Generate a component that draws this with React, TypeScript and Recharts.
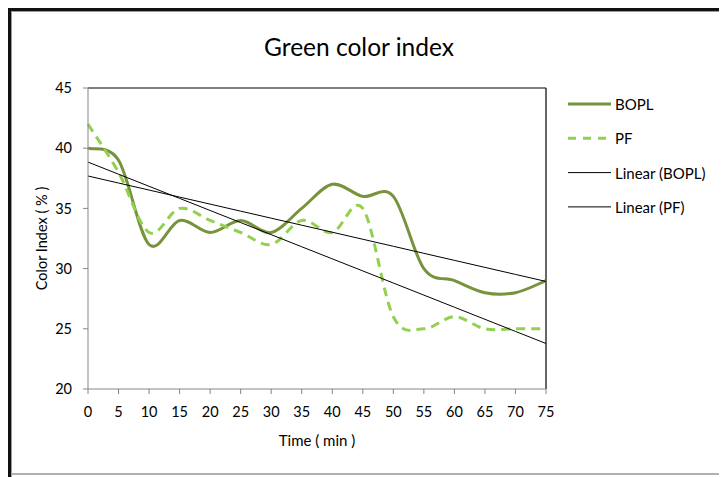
import React from 'react';
import { LineChart, Line, XAxis, YAxis, ReferenceLine } from 'recharts';

const times = [0, 5, 10, 15, 20, 25, 30, 35, 40, 45, 50, 55, 60, 65, 70, 75];
const boplValues = [40, 39, 32, 34, 33, 34, 33, 35, 37, 36, 36, 30, 29, 28, 28, 29];
const pfValues = [42, 38, 33, 35, 34, 33, 32, 34, 33, 35, 26, 25, 26, 25, 25, 25];
const xTicks = [0, 5, 10, 15, 20, 25, 30, 35, 40, 45, 50, 55, 60, 65, 70, 75];
const yTicks = [20, 25, 30, 35, 40, 45];

const BOPL_COLOR = '#77933C';
const PF_COLOR = '#92D050';
const FONT = 'Lato, "Open Sans", sans-serif';

function linearFit(xs: number[], ys: number[]) {
  const n = xs.length;
  const mx = xs.reduce((a, b) => a + b, 0) / n;
  const my = ys.reduce((a, b) => a + b, 0) / n;
  let sxy = 0;
  let sxx = 0;
  for (let i = 0; i < n; i++) {
    sxy += (xs[i] - mx) * (ys[i] - my);
    sxx += (xs[i] - mx) * (xs[i] - mx);
  }
  const slope = sxy / sxx;
  return { slope, intercept: my - slope * mx };
}

const fitB = linearFit(times, boplValues);
const fitP = linearFit(times, pfValues);

const data = times.map((t, i) => ({
  time: t,
  BOPL: boplValues[i],
  PF: pfValues[i],
  linB: fitB.intercept + fitB.slope * t,
  linP: fitP.intercept + fitP.slope * t,
}));

// Excel-like smoothed line (uniform Catmull-Rom through the points)
function excelSmooth(context: any) {
  let pts: number[][] = [];
  return {
    areaStart() {},
    areaEnd() {},
    lineStart() {
      pts = [];
    },
    lineEnd() {
      const n = pts.length;
      if (!n) return;
      context.moveTo(pts[0][0], pts[0][1]);
      for (let i = 0; i < n - 1; i++) {
        const p0 = pts[i - 1] || pts[i];
        const p1 = pts[i];
        const p2 = pts[i + 1];
        const p3 = pts[i + 2] || p2;
        context.bezierCurveTo(
          p1[0] + (p2[0] - p0[0]) / 6,
          p1[1] + (p2[1] - p0[1]) / 6,
          p2[0] - (p3[0] - p1[0]) / 6,
          p2[1] - (p3[1] - p1[1]) / 6,
          p2[0],
          p2[1]
        );
      }
    },
    point(x: number, y: number) {
      pts.push([+x, +y]);
    },
  };
}

const legendItems = [
  { name: 'BOPL', color: BOPL_COLOR, width: 3, dash: undefined as string | undefined },
  { name: 'PF', color: PF_COLOR, width: 3, dash: '8 7' },
  { name: 'Linear (BOPL)', color: '#000', width: 1, dash: undefined },
  { name: 'Linear (PF)', color: '#000', width: 1, dash: undefined },
];

export default function App() {
  const axisGray = '#868686';
  const tickStyle = { fill: '#000', fontSize: 14.5, fontFamily: FONT };
  return (
    <div style={{ position: 'relative', width: 719, height: 469, background: '#fff' }}>
      <LineChart
        width={719}
        height={469}
        data={data}
        margin={{ top: 80, right: 181, bottom: 58, left: 30 }}
        style={{ position: 'absolute', left: 0, top: 0 }}
      >
        <XAxis
          dataKey="time"
          type="number"
          domain={[0, 75]}
          ticks={xTicks}
          interval={0}
          height={30}
          tickSize={5}
          tickMargin={13}
          stroke={axisGray}
          tick={tickStyle}
          axisLine={{ stroke: axisGray }}
          tickLine={{ stroke: axisGray }}
          label={{ value: 'Time ( min )', position: 'bottom', offset: 16, style: { fill: '#000', fontSize: 15, fontFamily: FONT } }}
        />
        <YAxis
          type="number"
          domain={[20, 45]}
          ticks={yTicks}
          interval={0}
          width={50}
          tickSize={5}
          tickMargin={11}
          stroke={axisGray}
          tick={tickStyle}
          axisLine={{ stroke: axisGray }}
          tickLine={{ stroke: axisGray }}
          label={{ value: 'Color Index ( % )', angle: -90, position: 'insideLeft', offset: 4, style: { textAnchor: 'middle', fill: '#000', fontSize: 14.5, fontFamily: FONT } }}
        />
        <ReferenceLine y={45} stroke="#000" strokeWidth={1.2} />
        <ReferenceLine x={75} stroke="#000" strokeWidth={1.2} />
        <Line dataKey="BOPL" name="BOPL" type={excelSmooth as any} stroke={BOPL_COLOR} strokeWidth={3} dot={false} isAnimationActive={false} />
        <Line dataKey="PF" name="PF" type={excelSmooth as any} stroke={PF_COLOR} strokeWidth={3} strokeDasharray="9 6" dot={false} isAnimationActive={false} />
        <Line dataKey="linB" name="Linear (BOPL)" type="linear" stroke="#000" strokeWidth={1} dot={false} isAnimationActive={false} />
        <Line dataKey="linP" name="Linear (PF)" type="linear" stroke="#000" strokeWidth={1} dot={false} isAnimationActive={false} />
      </LineChart>

      {/* title */}
      <div
        style={{
          position: 'absolute',
          left: 151,
          width: 400,
          top: 24,
          textAlign: 'center',
          fontFamily: FONT,
          fontSize: 24.5,
          color: '#000',
          lineHeight: '30px',
        }}
      >
        Green color index
      </div>

      {/* legend */}
      <svg width={170} height={130} style={{ position: 'absolute', left: 555, top: 80 }}>
        {legendItems.map((it, i) => {
          const y = 16 + i * 34.3;
          return (
            <g key={it.name}>
              <line x1={5} x2={48} y1={y} y2={y} stroke={it.color} strokeWidth={it.width} strokeDasharray={it.dash} />
              <text x={52} y={y} dominantBaseline="central" fontFamily={FONT} fontSize={15} fill="#000">
                {it.name}
              </text>
            </g>
          );
        })}
      </svg>

      {/* frame */}
      <div style={{ position: 'absolute', left: 0, top: 0, width: 719, height: 3, background: '#111' }} />
      <div style={{ position: 'absolute', left: 0, top: 0, width: 3, height: 469, background: '#111' }} />
      <div style={{ position: 'absolute', left: 3, top: 3, width: 716, height: 1, background: '#9a9a9a' }} />
      <div style={{ position: 'absolute', left: 3, top: 3, width: 1, height: 466, background: '#9a9a9a' }} />
      <div style={{ position: 'absolute', left: 3, top: 465, width: 716, height: 2, background: '#b0b0b0' }} />
    </div>
  );
}
